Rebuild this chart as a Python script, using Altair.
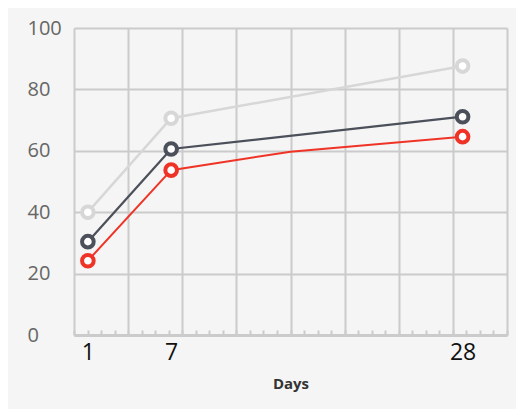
import altair as alt
import pandas as pd

# ---- data ----
days = [1, 7, 28]
gray_vals = [40.0, 70.6, 87.6]
dark_vals = [30.4, 60.6, 71.1]
red_vals = [24.2, 53.7, 64.6]
# bend in the red line (no marker drawn there)
red_mid_day = [15.6]
red_mid_val = [59.7]

series_names = ["gray", "dark", "red"]
series_colors = ["#d7d7d7", "#4b505b", "#ef3427"]
series_widths = [2.5, 2, 2.5]

x_label_values = [1, 7, 28]
y_tick_values = [0, 20, 40, 60, 80, 100]
x_domain = [0, 31.2]
grid_count = 8
minor_per_grid = 4

# ---- build table ----
rows = []
for name, vals in zip(series_names, [gray_vals, dark_vals, red_vals]):
    for d, v in zip(days, vals):
        rows.append({"day": d, "value": v, "series": name, "marker": True})
for d, v in zip(red_mid_day, red_mid_val):
    rows.append({"day": d, "value": v, "series": "red", "marker": False})
df = pd.DataFrame(rows)

step = (x_domain[1] - x_domain[0]) / grid_count
grid_vals = [round(x_domain[0] + i * step, 4) for i in range(grid_count + 1)]
minor_vals = [round(x_domain[0] + i * step / minor_per_grid, 4)
              for i in range(grid_count * minor_per_grid + 1)]

FONT = "Open Sans"
GRID = "#cbcbcb"

xscale = alt.Scale(domain=x_domain, nice=False, zero=False)
yscale = alt.Scale(domain=[0, 100], nice=False)
color_scale = alt.Scale(domain=series_names, range=series_colors)
width_scale = alt.Scale(domain=series_names, range=series_widths)

y_axis = alt.Axis(values=y_tick_values, grid=True, gridColor=GRID, gridWidth=2,
                  domain=False, ticks=False, tickSize=0, labelAlign="left",
                  labelBaseline="middle", labelPadding=47, labelFontSize=20,
                  labelColor="#666666", labelFont=FONT, labelFlush=False,
                  labelOverlap=False, title=None)

base = alt.Chart(df)

lines = base.mark_line().encode(
    x=alt.X("day:Q", scale=xscale,
            axis=alt.Axis(values=grid_vals, grid=True, gridColor=GRID, gridWidth=2,
                          labels=False, ticks=False, domain=True, domainColor=GRID,
                          domainWidth=3, title=None, orient="bottom")),
    y=alt.Y("value:Q", scale=yscale, axis=y_axis),
    color=alt.Color("series:N", scale=color_scale, legend=None),
    strokeWidth=alt.StrokeWidth("series:N", scale=width_scale, legend=None),
    detail="series:N",
)

points = base.transform_filter("datum.marker").mark_point(
    shape="circle", filled=True, fill="white", fillOpacity=1, opacity=1,
    size=135, strokeWidth=4
).encode(
    x=alt.X("day:Q", scale=xscale,
            axis=alt.Axis(values=x_label_values, grid=False, ticks=False, tickSize=0,
                          domain=False, labelFontSize=23, labelColor="#111111",
                          labelFont=FONT, labelPadding=6, labelFlush=False,
                          labelOverlap=False, title="Days", titleFont=FONT,
                          titleFontSize=15, titleFontWeight="bold", titleColor="#333333",
                          titlePadding=12, orient="bottom")),
    y=alt.Y("value:Q", scale=yscale, axis=y_axis),
    stroke=alt.Stroke("series:N", scale=color_scale, legend=None),
)

minor = base.mark_point(opacity=0).encode(
    x=alt.X("day:Q", scale=xscale,
            axis=alt.Axis(values=minor_vals, grid=False, labels=False, ticks=True,
                          tickSize=5, tickColor=GRID, tickWidth=2, domain=False,
                          offset=-5, title=None, orient="bottom")),
    y=alt.Y("value:Q", scale=yscale, axis=y_axis),
)

chart = alt.layer(lines, points, minor).resolve_axis(x="independent").properties(
    width=433, height=307,
    autosize=alt.AutoSizeParams(type="none"),
    padding={"left": 66, "top": 20, "right": 9, "bottom": 74},
    background="#f4f5f4",
).configure_view(strokeWidth=0)

chart.save("out.html", embed_options={"renderer": "svg", "actions": False})
